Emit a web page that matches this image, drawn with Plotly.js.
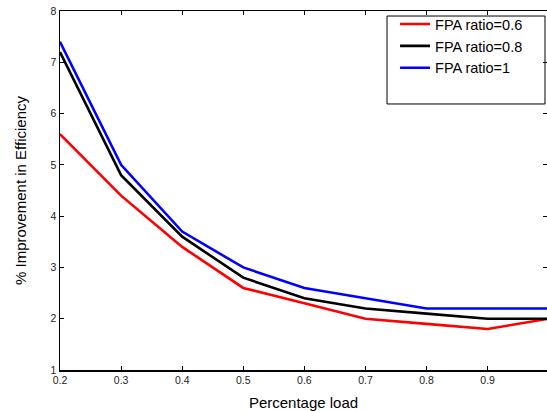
<!DOCTYPE html>
<html>
<head>
<meta charset="utf-8">
<script src="https://cdn.plot.ly/plotly-3.0.1.min.js"></script>
<style>html,body{margin:0;padding:0;background:#fff;}#chart{width:547px;height:411px;}</style>
</head>
<body>
<div id="chart"></div>
<script>
var load = [0.2, 0.3, 0.4, 0.5, 0.6, 0.7, 0.8, 0.9, 1.0];
var fpa06 = [5.6, 4.4, 3.4, 2.6, 2.3, 2.0, 1.9, 1.8, 2.0];
var fpa08 = [7.2, 4.8, 3.6, 2.8, 2.4, 2.2, 2.1, 2.0, 2.0];
var fpa10 = [7.4, 5.0, 3.7, 3.0, 2.6, 2.4, 2.2, 2.2, 2.2];
var seriesNames = ['FPA ratio=0.6', 'FPA ratio=0.8', 'FPA ratio=1'];
var xTickVals = [0.2, 0.3, 0.4, 0.5, 0.6, 0.7, 0.8, 0.9];
var xTickText = ['0.2', '0.3', '0.4', '0.5', '0.6', '0.7', '0.8', '0.9'];
var yTickVals = [1, 2, 3, 4, 5, 6, 7, 8];

var font = 'Liberation Sans, Arial, sans-serif';
var traces = [
  {x: load, y: fpa06, name: seriesNames[0], mode: 'lines', line: {color: '#ff0000', width: 2.6}},
  {x: load, y: fpa08, name: seriesNames[1], mode: 'lines', line: {color: '#000000', width: 2.6}},
  {x: load, y: fpa10, name: seriesNames[2], mode: 'lines', line: {color: '#0000ff', width: 2.6}}
];
var layout = {
  width: 547, height: 411,
  margin: {l: 60, r: 0, t: 11, b: 41, pad: 0},
  paper_bgcolor: '#fff', plot_bgcolor: '#fff',
  font: {family: font, color: '#000'},
  showlegend: true,
  legend: {
    x: 0.688, y: 1.008, xanchor: 'left', yanchor: 'top',
    bgcolor: 'rgba(0,0,0,0)', borderwidth: 0,
    font: {family: font, size: 14.5, color: '#000'},
    tracegroupgap: 0
  },
  xaxis: {
    range: [0.2, 0.9972],
    tickvals: xTickVals, ticktext: xTickText,
    ticks: 'inside', ticklen: 4, tickwidth: 1, tickcolor: '#000',
    showline: true, linecolor: '#000', linewidth: 1.5, mirror: 'ticks',
    showgrid: false, zeroline: false,
    tickfont: {family: font, size: 10.5, color: '#222'},
    title: {text: 'Percentage load', font: {family: font, size: 15, color: '#000'}, standoff: 12}
  },
  yaxis: {
    range: [1, 8],
    tickvals: yTickVals,
    ticks: 'inside', ticklen: 4, tickwidth: 1, tickcolor: '#000',
    showline: true, linecolor: '#000', linewidth: 1.5, mirror: 'ticks',
    showgrid: false, zeroline: false,
    tickfont: {family: font, size: 10.5, color: '#222'},
    title: {text: '% Improvement in Efficiency', font: {family: font, size: 15, color: '#000'}, standoff: 20}
  },
  shapes: [{
    type: 'rect', xref: 'paper', yref: 'paper',
    x0: 0.6715, x1: 0.9959, y0: 0.741, y1: 0.986,
    line: {color: '#000', width: 1}, fillcolor: 'rgba(0,0,0,0)', layer: 'above'
  }]
};
Plotly.newPlot('chart', traces, layout, {displayModeBar: false, staticPlot: true});
</script>
</body>
</html>
